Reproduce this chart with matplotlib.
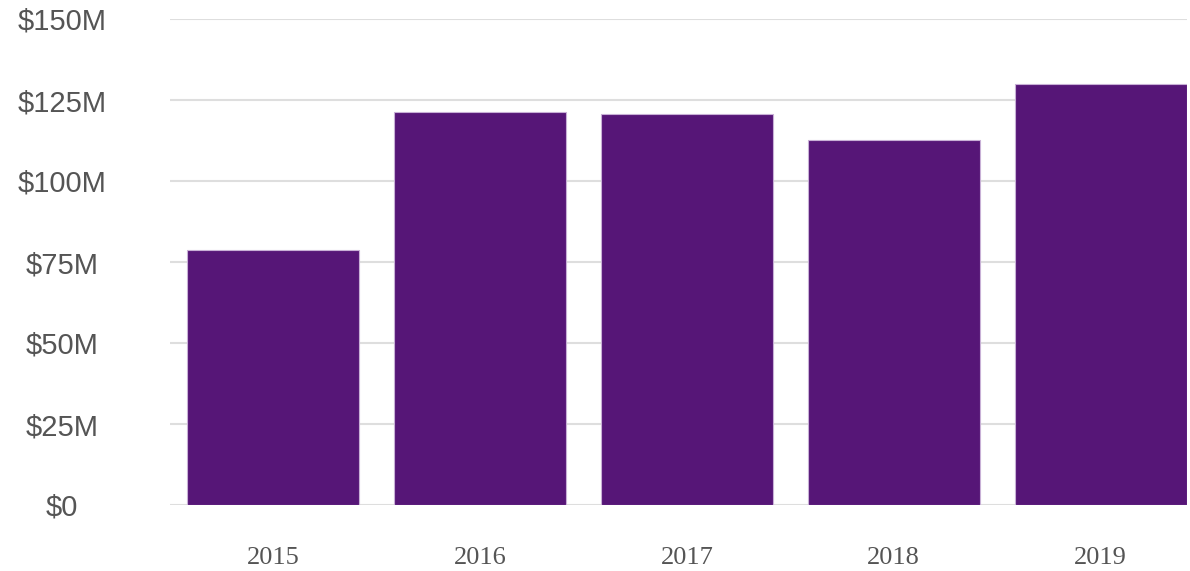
import matplotlib
matplotlib.use("Agg")
import matplotlib.pyplot as plt

years = ["2015", "2016", "2017", "2018", "2019"]
values = [78.7, 121.3, 120.7, 112.6, 129.9]  # $ millions
ytick_vals = [0, 25, 50, 75, 100, 125, 150]
ytick_labels = ["$0", "$25M", "$50M", "$75M", "$100M", "$125M", "$150M"]

fig = plt.figure(figsize=(11.9, 5.71), dpi=100)
ax = fig.add_axes([170 / 1190, 1 - 505 / 571, 1017 / 1190, (505 - 19) / 571])

x = list(range(len(years)))
ax.bar(x, values, width=0.832, color="#561677", edgecolor="#c8b0d6", linewidth=0.8, zorder=3)

ax.set_xlim(-0.5, 4.418)
ax.set_ylim(0, 150)
ax.set_yticks(ytick_vals)
ax.set_yticklabels(ytick_labels, fontsize=21, color="#555555", family="Liberation Sans")
for t in ax.get_yticklabels():
    t.set_horizontalalignment("center")
ax.tick_params(axis="y", length=0, pad=77.8)

ax.set_xticks(x)
ax.set_xticklabels(years, fontsize=19, color="#555555", family="Liberation Serif")
ax.tick_params(axis="x", length=0, pad=30)

ax.grid(axis="y", color="#dedede", linewidth=1.5, zorder=0)
ax.set_axisbelow(True)
for s in ax.spines.values():
    s.set_visible(False)

fig.savefig("out.png", dpi=100)
